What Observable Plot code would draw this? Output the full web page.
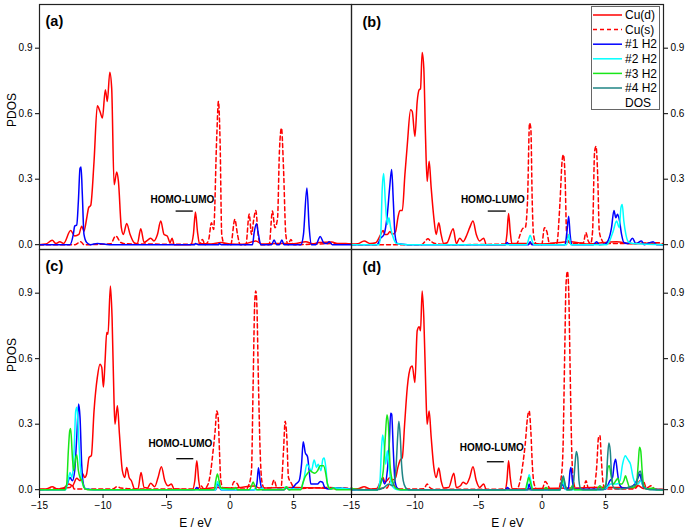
<!DOCTYPE html>
<html>
<head>
<meta charset="utf-8">
<script src="https://cdn.jsdelivr.net/npm/d3@7"></script>
<script src="https://cdn.jsdelivr.net/npm/@observablehq/plot@0.6"></script>
<style>
  html, body { margin: 0; padding: 0; background: white; }
  #wrap { position: relative; width: 685px; height: 531px; font-family: "Liberation Sans", Arial, sans-serif; }
  #wrap svg { position: absolute; left: 0; top: 0; }
</style>
</head>
<body>
<div id="wrap"></div>
<script>
// ---------- data: [E (eV), PDOS] ----------
const aCuD = [[-15,0.0],[-14.5,0.003],[-14.0,0.02],[-13.7,0.005],[-13.4,0.014],[-13.1,0.006],[-12.55,0.065],[-12.23,0.04],[-11.9,0.047],[-11.68,0.085],[-11.5,0.062],[-11.29,0.12],[-11.13,0.17],[-10.97,0.18],[-10.71,0.38],[-10.45,0.636],[-10.24,0.61],[-10.05,0.58],[-9.82,0.71],[-9.66,0.656],[-9.47,0.79],[-9.32,0.717],[-9.13,0.275],[-8.92,0.333],[-8.79,0.29],[-8.56,0.078],[-8.4,0.047],[-8.14,0.097],[-7.87,0.047],[-7.56,0.01],[-7.3,0.005],[-7.03,0.073],[-6.77,0.01],[-6.5,0.02],[-6.25,0.03],[-6.0,0.017],[-5.72,0.047],[-5.46,0.108],[-5.2,0.047],[-4.95,0.04],[-4.72,0.01],[-4.57,0.03],[-4.4,0.0],[-3.1,0.0],[-2.89,0.047],[-2.73,0.15],[-2.57,0.06],[-2.41,0.005],[-1.5,0.003],[-0.73,0.01],[0,0.003],[1.0,0.002],[2.02,0.017],[2.5,0.003],[3.72,0.006],[5.0,0.004],[5.96,0.014],[6.5,0.004],[7.0,0.01],[8.0,0.012],[8.5,0.005],[9.1,0.005],[9.6,0.003]];
const aCuS = [[-15,0],[-12.2,0.0],[-11.76,0.014],[-11.5,0.0],[-9.4,0.004],[-9.0,0.04],[-8.6,0.01],[-8.2,0.004],[-2.4,0.002],[-2.18,0.024],[-1.98,0.0],[-1.7,0.02],[-1.47,0.1],[-1.3,0.07],[-1.05,0.5],[-0.92,0.656],[-0.79,0.47],[-0.66,0.047],[-0.47,0.005],[0.05,0.0],[0.37,0.116],[0.58,0.047],[0.79,0.0],[1.24,0.0],[1.5,0.14],[1.68,0.047],[1.84,0.108],[2.02,0.157],[2.2,0.047],[2.41,0.0],[3.07,0.0],[3.33,0.154],[3.52,0.078],[3.73,0.12],[3.88,0.43],[4.04,0.534],[4.2,0.35],[4.38,0.047],[4.56,0.0],[4.78,0.024],[5.0,0.0],[8.19,0.005],[9.6,0.003]];
const aH1 = [[-15,0],[-12.6,0],[-12.34,0.047],[-12.23,0.085],[-12.07,0.09],[-11.94,0.2],[-11.81,0.35],[-11.73,0.356],[-11.63,0.23],[-11.5,0.047],[-11.29,0.01],[-10.97,0.0],[-10.45,0.006],[-9.5,0.0],[-2.8,0.0],[-2.73,0.005],[-2.5,0.0],[-0.9,0.0],[-0.87,0.006],[-0.7,0],[1.76,0.0],[1.89,0.055],[2.07,0.096],[2.23,0.047],[2.41,0.0],[3.25,0.0],[3.46,0.021],[3.67,0.0],[3.87,0.0],[4.07,0.021],[4.25,0.0],[5.57,0.0],[5.77,0.047],[6.04,0.26],[6.22,0.078],[6.4,0.0],[6.75,0.0],[7.09,0.038],[7.35,0.01],[7.6,0.005],[7.8,0.014],[8.05,0.0],[9.6,0.0]];

const bCuD = [[-15,0.003],[-14.5,0.004],[-14.01,0.017],[-13.5,0.005],[-13.1,0.009],[-12.7,0.047],[-12.52,0.065],[-12.37,0.047],[-12.18,0.047],[-11.97,0.06],[-11.79,0.047],[-11.53,0.06],[-11.35,0.123],[-11.19,0.157],[-11.0,0.157],[-10.8,0.32],[-10.61,0.458],[-10.35,0.618],[-10.22,0.61],[-10.01,0.496],[-9.83,0.656],[-9.67,0.71],[-9.57,0.714],[-9.44,0.88],[-9.31,0.808],[-9.18,0.504],[-9.05,0.29],[-8.89,0.382],[-8.73,0.26],[-8.52,0.123],[-8.34,0.047],[-8.13,0.1],[-7.95,0.047],[-7.74,0.005],[-7.48,0.009],[-7.0,0.073],[-6.75,0.005],[-6.48,0.03],[-6.22,0.014],[-5.91,0.047],[-5.7,0.078],[-5.44,0.108],[-5.18,0.047],[-4.92,0.017],[-4.6,0.03],[-4.39,0.0],[-2.9,0.0],[-2.77,0.047],[-2.64,0.143],[-2.51,0.06],[-2.38,0.005],[-1.0,0.005],[0,0.003],[2.2,0.014],[3.5,0.003],[5.86,0.014],[7.0,0.004],[8.5,0.008],[9.2,0.002],[9.55,0.0]];
const bCuS = [[-15,0],[-9.5,0.0],[-9.18,0.017],[-8.99,0.027],[-8.78,0.017],[-8.39,0.005],[-7.0,0.0],[-2.0,0.005],[-1.73,0.047],[-1.52,0.075],[-1.33,0.078],[-1.15,0.2],[-0.99,0.557],[-0.89,0.534],[-0.78,0.2],[-0.68,0.047],[-0.47,0.005],[-0.03,0.0],[0.18,0.078],[0.37,0.06],[0.58,0.005],[1.15,0.005],[1.41,0.2],[1.57,0.382],[1.67,0.412],[1.8,0.32],[1.93,0.047],[2.2,0.005],[3.24,0.009],[3.45,0.055],[3.63,0.017],[3.82,0.005],[3.97,0.062],[4.13,0.428],[4.24,0.45],[4.37,0.32],[4.5,0.06],[4.68,0.024],[4.94,0.005],[6.64,0.005],[9.2,0.009],[9.55,0.003]];
const bH1 = [[-15,0],[-13.0,0],[-12.7,0.03],[-12.44,0.047],[-12.18,0.14],[-12.0,0.26],[-11.84,0.344],[-11.71,0.2],[-11.58,0.047],[-11.4,0.005],[-10.6,0.0],[-2.9,0.0],[-2.77,0.01],[-2.56,0.0],[-1.07,0.0],[-0.94,0.014],[-0.81,0.0],[1.8,0.0],[1.93,0.047],[2.09,0.13],[2.2,0.047],[2.33,0.0],[4.03,0.0],[4.29,0.014],[4.5,0.0],[4.9,0.002],[5.2,0.02],[5.46,0.078],[5.65,0.157],[5.8,0.123],[5.93,0.14],[6.07,0.116],[6.25,0.047],[6.43,0.01],[6.77,0.005],[7.11,0.03],[7.37,0.005],[7.82,0.017],[8.03,0.0],[8.73,0.014],[9.0,0.0],[9.55,0.0]];
const bH2 = [[-15,0],[-12.85,0],[-12.7,0.047],[-12.58,0.26],[-12.47,0.326],[-12.34,0.2],[-12.18,0.093],[-12.05,0.123],[-11.92,0.078],[-11.79,0.047],[-11.66,0.024],[-11.45,0.005],[-10.6,0.0],[-1.2,0.0],[-1.07,0.024],[-0.94,0.043],[-0.78,0.017],[-0.63,0.0],[1.93,0.0],[2.09,0.047],[2.25,0.0],[5.07,0.0],[5.33,0.02],[5.59,0.062],[5.86,0.108],[6.07,0.078],[6.2,0.169],[6.3,0.184],[6.43,0.108],[6.59,0.047],[6.77,0.014],[7.15,0.005],[9.55,0.0]];

const cCuD = [[-15,0.003],[-14.5,0.003],[-13.99,0.014],[-13.6,0.003],[-13.1,0.008],[-12.68,0.026],[-12.41,0.018],[-12.07,0.052],[-11.81,0.041],[-11.63,0.075],[-11.44,0.056],[-11.29,0.072],[-11.1,0.148],[-10.92,0.156],[-10.71,0.36],[-10.45,0.514],[-10.24,0.575],[-10.1,0.56],[-9.97,0.47],[-9.84,0.59],[-9.71,0.72],[-9.61,0.712],[-9.42,0.933],[-9.29,0.79],[-9.13,0.392],[-9.06,0.3],[-8.87,0.384],[-8.71,0.255],[-8.48,0.087],[-8.29,0.056],[-8.14,0.102],[-7.95,0.056],[-7.77,0.041],[-7.51,0.003],[-7.25,0.003],[-7.01,0.079],[-6.77,0.01],[-6.51,0.008],[-6.25,0.029],[-5.94,0.014],[-5.67,0.056],[-5.41,0.105],[-5.14,0.041],[-4.88,0.018],[-4.62,0.026],[-4.41,0.003],[-2.97,0.0],[-2.78,0.041],[-2.62,0.133],[-2.47,0.041],[-2.31,0.003],[-1.0,0.01],[0.31,0.008],[1.89,0.017],[2.28,0.008],[5.04,0.01],[7.09,0.008],[9.1,0.003],[9.6,0.003]];
const cCuS = [[-15,0],[-12.6,0.01],[-12.41,0.021],[-12.28,0.003],[-9.25,0.003],[-8.87,0.014],[-8.61,0.008],[-7.3,0.003],[-2.57,0.003],[-2.31,0.018],[-2.05,0.003],[-1.73,0.026],[-1.52,0.087],[-1.34,0.178],[-1.18,0.27],[-1.05,0.36],[-0.94,0.33],[-0.84,0.178],[-0.73,0.041],[-0.52,0.003],[0.05,0.003],[0.31,0.037],[0.58,0.026],[0.79,0.003],[1.24,0.003],[1.5,0.026],[1.68,0.087],[1.81,0.484],[1.94,0.865],[2.02,0.91],[2.1,0.85],[2.23,0.484],[2.36,0.178],[2.49,0.041],[2.68,0.008],[3.2,0.008],[3.46,0.044],[3.67,0.01],[3.99,0.003],[4.2,0.178],[4.33,0.313],[4.46,0.24],[4.59,0.056],[4.78,0.034],[5.04,0.008],[5.57,0.006],[7.5,0.01],[9.6,0.006]];
const cH1 = [[-15,0],[-13.0,0],[-12.81,0.026],[-12.6,0.056],[-12.41,0.041],[-12.23,0.087],[-12.07,0.24],[-11.92,0.392],[-11.81,0.33],[-11.68,0.117],[-11.55,0.026],[-11.36,0.003],[-10.7,0],[-2.8,0],[-2.62,0.01],[-2.44,0],[-1.13,0],[-1.0,0.026],[-0.87,0.018],[-0.73,0],[1.89,0],[2.1,0.026],[2.23,0.1],[2.36,0.041],[2.52,0],[4.25,0],[4.46,0.01],[4.65,0],[4.91,0.008],[5.17,0.026],[5.43,0.041],[5.62,0.117],[5.75,0.22],[5.91,0.17],[6.09,0.151],[6.22,0.087],[6.35,0.026],[6.61,0.026],[6.88,0.026],[7.09,0.037],[7.27,0.034],[7.45,0.01],[7.8,0.003],[8.19,0.008],[9.6,0.003]];
const cH2 = [[-15,0],[-12.94,0],[-12.81,0.026],[-12.6,0.079],[-12.44,0.056],[-12.28,0.178],[-12.15,0.36],[-12.05,0.377],[-11.92,0.24],[-11.76,0.087],[-11.6,0.026],[-11.36,0.003],[-10.7,0],[-1.13,0],[-1.0,0.037],[-0.84,0.018],[-0.68,0],[2.28,0],[2.55,0.008],[2.68,0],[4.25,0.003],[4.38,0.014],[4.65,0.003],[5.57,0.003],[5.83,0.056],[6.04,0.117],[6.22,0.102],[6.4,0.087],[6.61,0.136],[6.8,0.102],[6.93,0.117],[7.14,0.087],[7.3,0.14],[7.4,0.145],[7.53,0.102],[7.66,0.026],[7.87,0.003],[8.19,0.008],[9.6,0.002]];
const cH3 = [[-15,0],[-13.0,0],[-12.86,0.026],[-12.73,0.178],[-12.62,0.27],[-12.55,0.28],[-12.41,0.148],[-12.31,0.087],[-12.15,0.148],[-12.07,0.16],[-11.94,0.087],[-11.81,0.056],[-11.65,0.041],[-11.5,0.01],[-11.23,0],[-1.26,0],[-1.13,0.041],[-1.0,0.072],[-0.87,0.041],[-0.73,0.008],[0.31,0.003],[0.45,0.01],[0.58,0],[1.5,0],[1.68,0.018],[1.81,0.035],[1.94,0.018],[2.1,0],[4.25,0],[4.44,0.014],[4.59,0],[5.57,0],[5.7,0.026],[5.88,0.056],[6.09,0.075],[6.3,0.087],[6.48,0.079],[6.67,0.075],[6.88,0.087],[7.09,0.11],[7.35,0.11],[7.53,0.072],[7.66,0.026],[7.87,0.003],[8.14,0.008],[8.33,0],[9.6,0]];

const dCuD = [[-15,0.003],[-14.5,0.004],[-14.01,0.014],[-13.5,0.003],[-13.0,0.006],[-12.7,0.041],[-12.52,0.056],[-12.37,0.034],[-12.18,0.044],[-11.97,0.056],[-11.76,0.044],[-11.53,0.056],[-11.35,0.102],[-11.19,0.133],[-11.0,0.148],[-10.82,0.3],[-10.61,0.468],[-10.35,0.56],[-10.22,0.567],[-10.01,0.491],[-9.83,0.728],[-9.67,0.746],[-9.57,0.728],[-9.44,0.91],[-9.31,0.789],[-9.15,0.453],[-9.05,0.3],[-8.89,0.36],[-8.73,0.24],[-8.52,0.102],[-8.34,0.056],[-8.13,0.099],[-7.95,0.041],[-7.74,0.008],[-7.35,0.01],[-6.95,0.075],[-6.75,0.01],[-6.43,0.018],[-6.22,0.034],[-5.96,0.026],[-5.7,0.056],[-5.44,0.105],[-5.18,0.041],[-4.92,0.01],[-4.6,0.026],[-4.39,0],[-2.9,0],[-2.77,0.041],[-2.64,0.133],[-2.51,0.056],[-2.35,0.003],[-0.2,0.005],[2.46,0.008],[5.07,0.011],[7.16,0.008],[7.56,0.018],[7.95,0.006],[9.5,0.002]];
const dCuS = [[-15,0],[-12.2,0.008],[-11.92,0.041],[-11.4,0.003],[-9.3,0.004],[-9.05,0.026],[-8.84,0.01],[-8.52,0.002],[-2.0,0.003],[-1.73,0.041],[-1.52,0.117],[-1.33,0.209],[-1.15,0.331],[-1.02,0.36],[-0.89,0.27],[-0.76,0.102],[-0.63,0.026],[-0.42,0.003],[0.0,0.003],[0.24,0.037],[0.42,0.026],[0.63,0.003],[1.28,0.003],[1.46,0.041],[1.62,0.148],[1.78,0.636],[1.88,0.94],[1.99,1.0],[2.09,0.91],[2.2,0.56],[2.33,0.178],[2.46,0.041],[2.67,0.003],[3.24,0.003],[3.45,0.041],[3.63,0.008],[4.05,0.002],[4.29,0.102],[4.44,0.24],[4.55,0.247],[4.65,0.148],[4.81,0.026],[5.02,0.003],[7.16,0.003],[7.42,0.01],[7.69,0.041],[7.95,0.041],[8.21,0.008],[8.6,0.018],[8.86,0.003],[9.5,0]];
const dH1 = [[-15,0],[-12.97,0],[-12.76,0.026],[-12.58,0.049],[-12.39,0.026],[-12.18,0.087],[-12.03,0.209],[-11.92,0.35],[-11.84,0.346],[-11.71,0.178],[-11.58,0.041],[-11.4,0.008],[-11.14,0],[-2.9,0],[-2.72,0.01],[-2.56,0],[-1.15,0],[-1.02,0.026],[-0.89,0],[1.41,0],[1.62,0.026],[1.8,0.003],[2.07,0.008],[2.2,0.087],[2.27,0.102],[2.38,0.041],[2.51,0.002],[5.0,0.003],[5.33,0.041],[5.54,0.056],[5.67,0.117],[5.78,0.14],[5.91,0.087],[6.07,0.026],[6.33,0.008],[6.9,0.01],[7.29,0.026],[7.56,0.056],[7.69,0.072],[7.82,0.041],[8.0,0.01],[8.47,0.003],[9.5,0]];
const dH2 = [[-15,0],[-12.97,0],[-12.76,0.041],[-12.65,0.178],[-12.55,0.25],[-12.44,0.209],[-12.31,0.117],[-12.18,0.178],[-12.05,0.117],[-11.92,0.041],[-11.71,0.01],[-11.4,0],[-1.25,0],[-1.12,0.041],[-1.02,0.069],[-0.89,0.041],[-0.73,0],[1.41,0],[1.62,0.041],[1.75,0.018],[1.88,0],[4.6,0],[5.07,0.008],[5.39,0.026],[5.86,0.026],[6.12,0.041],[6.33,0.117],[6.54,0.156],[6.64,0.148],[6.8,0.133],[6.95,0.117],[7.16,0.056],[7.37,0.026],[7.56,0.026],[7.74,0.041],[7.95,0.018],[8.21,0.003],[9.5,0]];
const dH3 = [[-15,0.008],[-14.8,0.003],[-14.0,0.0],[-12.97,0],[-12.7,0.026],[-12.5,0.087],[-12.34,0.24],[-12.21,0.343],[-12.1,0.3],[-11.97,0.117],[-11.79,0.041],[-11.66,0.018],[-11.45,0.005],[-11.14,0],[-1.33,0],[-1.2,0.026],[-1.05,0.056],[-0.89,0.026],[-0.73,0],[0.1,0],[0.31,0.01],[0.5,0],[1.41,0],[1.54,0.026],[1.67,0.052],[1.83,0.018],[1.99,0],[2.2,0],[2.38,0.018],[2.54,0],[4.29,0],[4.55,0.018],[4.76,0.003],[5.02,0.026],[5.18,0.102],[5.28,0.11],[5.41,0.072],[5.59,0.026],[5.8,0.041],[5.96,0.052],[6.12,0.026],[6.27,0.026],[6.43,0.041],[6.56,0.064],[6.69,0.041],[6.9,0.01],[7.16,0.01],[7.42,0.026],[7.56,0.117],[7.66,0.194],[7.76,0.178],[7.87,0.087],[8.0,0.018],[8.21,0.003],[8.73,0.008],[9.0,0],[9.5,0]];
const dH4 = [[-15,0],[-12.97,0],[-12.44,0.01],[-12.05,0.026],[-11.79,0.018],[-11.61,0.041],[-11.48,0.117],[-11.37,0.24],[-11.27,0.313],[-11.16,0.24],[-11.06,0.117],[-10.93,0.041],[-10.75,0.01],[-10.5,0],[1.41,0],[1.54,0.041],[1.67,0.063],[1.8,0.026],[1.93,0],[2.33,0],[2.46,0.026],[2.59,0.117],[2.69,0.175],[2.8,0.148],[2.9,0.041],[3.03,0.005],[3.24,0],[4.81,0],[5.02,0.018],[5.15,0.148],[5.25,0.214],[5.36,0.178],[5.49,0.041],[5.65,0.008],[6.12,0.003],[6.64,0.008],[7.16,0.018],[7.42,0.026],[7.61,0.079],[7.74,0.084],[7.87,0.041],[8.0,0.01],[8.47,0],[9.5,0]];

const seriesNames = ["Cu(d)", "Cu(s)", "#1 H2", "#2 H2", "#3 H2", "#4 H2"];
const seriesColors = ["#ff0000", "#ff0000", "#0000ff", "#00ffff", "#19e619", "#1f8585"];
const panelLabels = ["(a)", "(b)", "(c)", "(d)"];
const xTicks = [-15, -10, -5, 0, 5];
const yTicks = [0, 0.3, 0.6, 0.9];
// HOMO-LUMO annotation: label position and bar span (E, PDOS)
const homoText = [[-3.76, 0.204], [-3.88, 0.204], [-3.92, 0.21], [-3.96, 0.192]];
const homoBar  = [[-4.25, -2.9, 0.154], [-4.24, -2.82, 0.154], [-4.2, -2.86, 0.142], [-4.31, -2.98, 0.128]];

// ---------- build tables ----------
const panelFx = ["L", "R", "L", "R"];
const panelFy = ["T", "T", "B", "B"];
const panelSeries = [
  [aCuD, aCuS, aH1],
  [bCuD, bCuS, bH1, bH2],
  [cCuD, cCuS, cH1, cH2, cH3],
  [dCuD, dCuS, dH1, dH2, dH3, dH4]
];
const rows = [];
panelSeries.forEach((list, p) => {
  list.forEach((pts, s) => {
    pts.forEach(([E, v]) => rows.push({E, v, name: seriesNames[s], fx: panelFx[p], fy: panelFy[p]}));
  });
});
const panels = panelLabels.map((t, p) => ({
  t, fx: panelFx[p], fy: panelFy[p],
  tx: homoText[p][0], ty: homoText[p][1],
  b1: homoBar[p][0], b2: homoBar[p][1], bv: homoBar[p][2]
}));

const font = '"Liberation Sans", Arial, sans-serif';
const lineMarks = seriesNames.map((name, i) =>
  Plot.line(rows.filter(r => r.name === name), {
    x: "E", y: "v", fx: "fx", fy: "fy",
    stroke: seriesColors[i], strokeWidth: 1.5,
    strokeDasharray: name === "Cu(s)" ? "4,3" : null,
    curve: "monotone-x", clip: true
  })
);

const chart = Plot.plot({
  width: 685, height: 531,
  marginLeft: 39, marginRight: 22, marginTop: 3, marginBottom: 37,
  style: {fontFamily: font, fontSize: "10px", color: "black", background: "transparent"},
  fx: {domain: ["L", "R"], padding: 0, axis: null},
  fy: {domain: ["T", "B"], padding: 0, axis: null},
  x: {domain: [-15, 9.55]},
  y: {domain: [-0.022, 1.1]},
  marks: [
    ...lineMarks,
    Plot.ruleY(panels, {y: "bv", x1: "b1", x2: "b2", fx: "fx", fy: "fy", stroke: "black", strokeWidth: 1.3}),
    Plot.text(panels, {x: "tx", y: "ty", text: () => "HOMO-LUMO", fx: "fx", fy: "fy", fontWeight: "bold", fontSize: 10}),
    Plot.text(panels.filter(d => d.fx === "L"), {text: "t", fx: "fx", fy: "fy", frameAnchor: "top-left", textAnchor: "start", lineAnchor: "middle", dx: 6, dy: 17, fontWeight: "bold", fontSize: 14.5}),
    Plot.text(panels.filter(d => d.fx === "R"), {text: "t", fx: "fx", fy: "fy", frameAnchor: "top-left", textAnchor: "start", lineAnchor: "middle", dx: 11, dy: 18, fontWeight: "bold", fontSize: 14.5}),
    Plot.text(panels.filter(d => d.fx === "L"), {text: () => "PDOS", fx: "fx", fy: "fy", frameAnchor: "left", rotate: -90, dx: -27, fontSize: 12}),
    Plot.text(panels.filter(d => d.fy === "B"), {text: () => "E / eV", fx: "fx", fy: "fy", frameAnchor: "bottom", lineAnchor: "middle", dy: 29, fontSize: 12}),
    Plot.frame({stroke: "#222", strokeWidth: 1.2}),
    Plot.axisY({anchor: "left", ticks: yTicks, tickFormat: d3.format(".1f"), tickSize: 4, tickPadding: 3, label: null}),
    Plot.axisY({anchor: "right", ticks: yTicks, tickFormat: d3.format(".1f"), tickSize: 4, tickPadding: 3, label: null}),
    Plot.axisX({anchor: "bottom", ticks: xTicks, tickSize: 4, tickPadding: 3, label: null})
  ]
});
document.getElementById("wrap").appendChild(chart);

// ---------- legend (inside panel b) ----------
const leg = d3.select("#wrap").append("svg")
  .attr("width", 70).attr("height", 105)
  .style("left", "591px").style("top", "6px");
leg.append("rect").attr("x", 0.5).attr("y", 0.5).attr("width", 68).attr("height", 103)
  .attr("fill", "white").attr("stroke", "#666");
const legendItems = [...seriesNames, "DOS"];
legendItems.forEach((name, i) => {
  const y = 9 + i * 14.6;
  if (i < seriesNames.length) {
    leg.append("line").attr("x1", 2).attr("x2", 31).attr("y1", y).attr("y2", y)
      .attr("stroke", seriesColors[i]).attr("stroke-width", 1.5)
      .attr("stroke-dasharray", name === "Cu(s)" ? "4,3" : null);
  }
  leg.append("text").attr("x", 34).attr("y", y).attr("dy", "0.35em")
    .attr("font-family", font).attr("font-size", 12).attr("fill", "black").text(name);
});
</script>
</body>
</html>
